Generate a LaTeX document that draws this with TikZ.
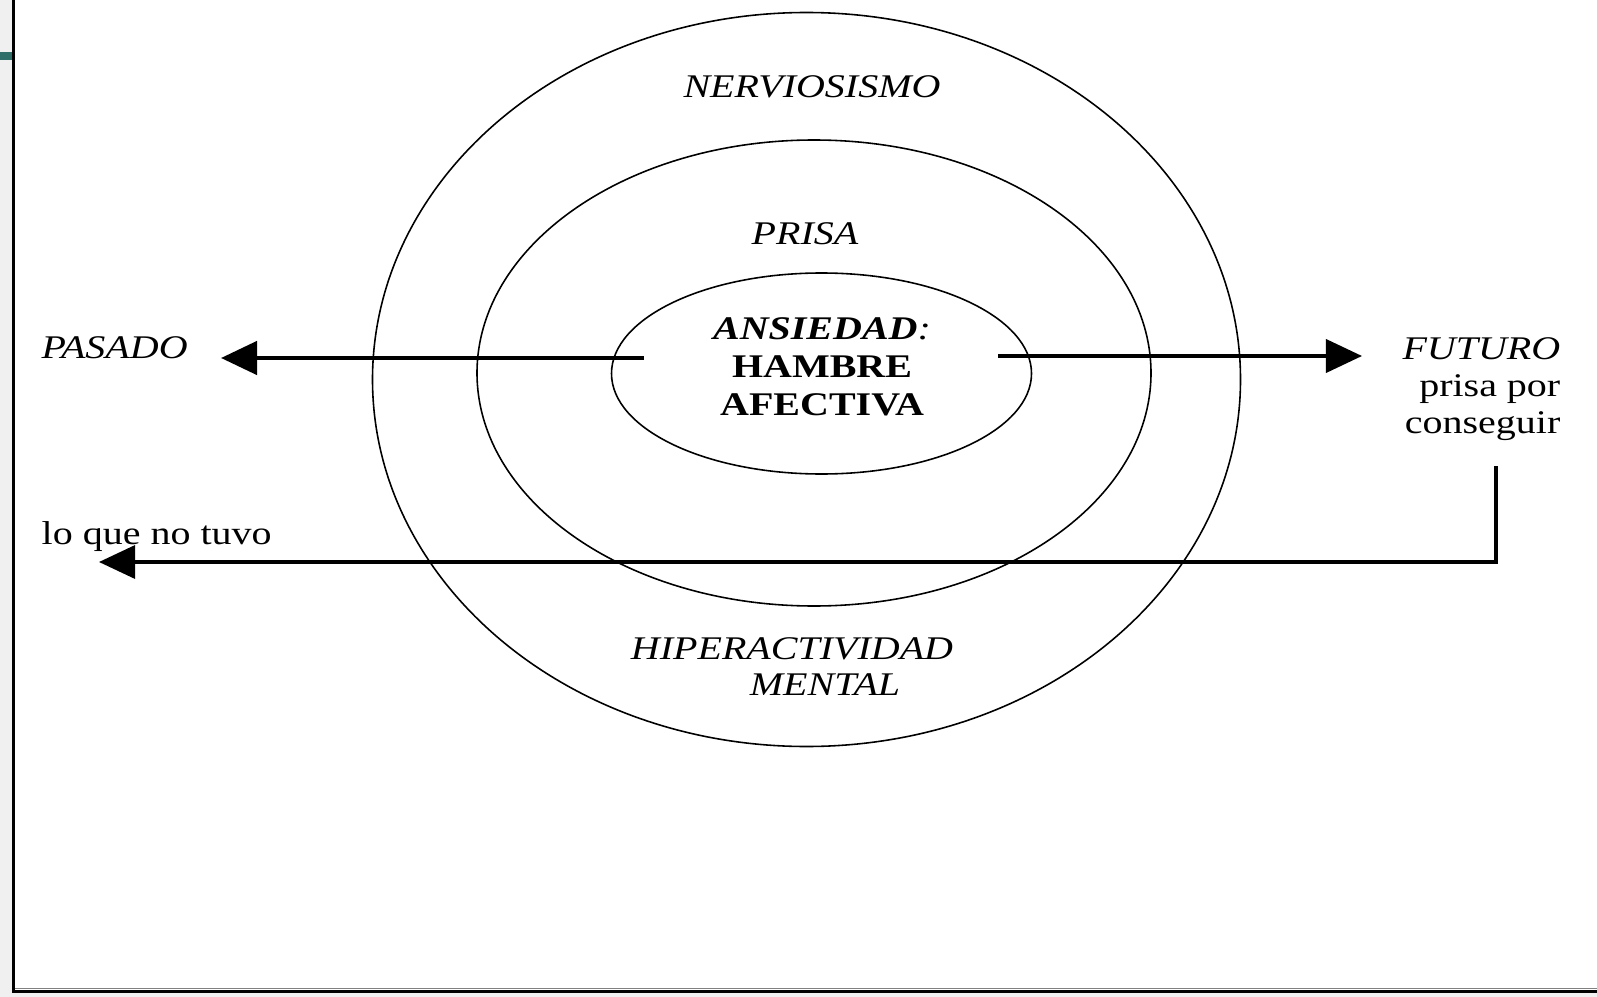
\documentclass[tikz,border=0pt]{standalone}
\usepackage{fontspec}
\setmainfont{Liberation Serif}[FakeStretch=1.21]
\usetikzlibrary{arrows.meta}
\definecolor{panelgray}{RGB}{240,240,240}
\definecolor{tabteal}{RGB}{47,111,106}

\begin{document}
\begin{tikzpicture}[x=0.01cm, y=-0.01cm,
    lbl/.style={inner sep=0pt, font=\fontsize{9.4}{10.8}\selectfont\itshape},
    txt/.style={inner sep=0pt, font=\fontsize{9.4}{10.8}\selectfont},
    ring/.style={line width=0.45pt},
    flecha/.style={line width=1.1pt, -{Triangle[length=0.36cm, width=0.33cm]}}]
    % page and frame
    \useasboundingbox (0,0) rectangle (1597,997);
    \fill[panelgray] (0,0) rectangle (1597,997);
    \fill[white] (13,0) rectangle (1597,991);
    \fill[tabteal] (0,52) rectangle (12,60);
    \draw[line width=0.85pt] (13.5,0) -- (13.5,992);
    \draw[line width=0.85pt] (12,991.5) -- (1597,991.5);
    \draw[gray, line width=0.4pt] (15,988.5) -- (1597,988.5);

    % rings
    \draw[ring] (806.5,379.5) ellipse (434 and 367);
    \draw[ring] (814,373) ellipse (337 and 233);
    \draw[ring] (821.5,373.5) ellipse (210 and 100.5);

    % labels
    \node[lbl] (nerviosismo) at (812,87) {NERVIOSISMO};
    \node[lbl] (prisa) at (805,234) {PRISA};
    \node[txt, align=center] (ansiedad) at (822,367)
        {\textbf{\textit{ANSIEDAD}}\textit{:}\\ \textbf{HAMBRE}\\ \textbf{AFECTIVA}};
    \node[lbl, anchor=west] (pasado) at (41,348) {PASADO};
    \node[txt, align=right, anchor=east, font=\fontsize{9.4}{10.5}\selectfont] (futuro) at (1561,389)
        {\textit{FUTURO}\\ prisa por\\ conseguir};
    \node[txt, anchor=west] (loque) at (41,537) {lo que no tuvo};
    \node[lbl] (hiper) at (792,649) {HIPERACTIVIDAD};
    \node[lbl] (mental) at (825,685) {MENTAL};

    % arrows
    \coordinate (pasadoTip) at (221,358);
    \coordinate (pasadoTail) at (644,358);
    \coordinate (futuroTail) at (998,356);
    \coordinate (futuroTip) at (1362,356);
    \coordinate (vueltaTop) at (1496,466);
    \coordinate (vueltaTip) at (99,562);
    \draw[flecha, line width=1.3pt] (pasadoTail) -- (pasadoTip);
    \draw[flecha] (futuroTail) -- (futuroTip);
    \draw[flecha, line width=0.95pt] (vueltaTop) |- (vueltaTip);
\end{tikzpicture}
\end{document}
